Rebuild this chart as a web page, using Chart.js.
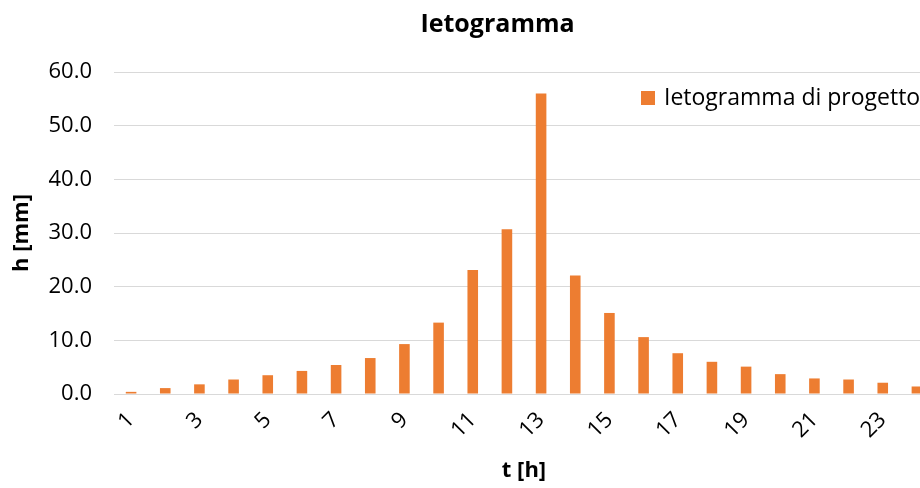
<!DOCTYPE html>
<html>
<head>
<meta charset="utf-8">
<script src="https://cdn.jsdelivr.net/npm/chart.js@4/dist/chart.umd.min.js"></script>
<style>
  html, body { margin: 0; padding: 0; background: #fff; overflow: hidden; }
  #wrap { width: 986px; height: 488px; position: relative; }
</style>
</head>
<body>
<div id="wrap"><canvas id="chart"></canvas></div>
<script>
// ore 1..24
var ore = ['1','2','3','4','5','6','7','8','9','10','11','12','13','14','15','16','17','18','19','20','21','22','23','24'];
// altezze di pioggia (mm)
var altezze = [0.4, 1.1, 1.8, 2.7, 3.5, 4.3, 5.4, 6.7, 9.3, 13.3, 23.1, 30.7, 56.0, 22.1, 15.1, 10.6, 7.6, 6.0, 5.1, 3.7, 2.9, 2.7, 2.1, 1.4];
var yTicks = [0, 10, 20, 30, 40, 50, 60];

var fontName = "'Open Sans', 'Noto Sans', sans-serif";
var arancio = '#ED7D31';
var griglia = '#d9d9d9';

// legenda disegnata dentro l'area del grafico, in alto a destra
var legendaInterna = {
    id: 'legendaInterna',
    afterDraw: function(chart) {
        var ctx = chart.ctx;
        var area = chart.chartArea;
        var ds = chart.data.datasets[0];
        var x = area.right - 293;
        var y = area.top + 19;
        ctx.save();
        ctx.fillStyle = ds.backgroundColor;
        ctx.fillRect(x, y, 14, 14);
        ctx.fillStyle = '#000';
        ctx.font = '23px ' + fontName;
        ctx.textBaseline = 'middle';
        ctx.textAlign = 'left';
        ctx.fillText(ds.label, x + 23, y + 7);
        ctx.restore();
    }
};

new Chart(document.getElementById('chart'), {
    type: 'bar',
    data: {
        labels: ore,
        datasets: [{
            label: 'Ietogramma di progetto',
            data: altezze,
            backgroundColor: arancio,
            borderWidth: 0,
            categoryPercentage: 1,
            barPercentage: 0.31
        }]
    },
    plugins: [legendaInterna],
    options: {
        responsive: true,
        maintainAspectRatio: false,
        animation: false,
        layout: { padding: { left: 9, right: 0, top: 0, bottom: 4 } },
        plugins: {
            title: {
                display: true,
                text: 'Ietogramma',
                color: '#000',
                font: { family: fontName, size: 25, weight: 'bold' },
                padding: { top: 10, bottom: 32 }
            },
            legend: { display: false },
            tooltip: { enabled: false }
        },
        scales: {
            x: {
                grid: { display: false, drawTicks: false },
                border: { display: true, color: griglia, width: 1 },
                ticks: {
                    autoSkip: false,
                    minRotation: 45,
                    maxRotation: 45,
                    padding: 13,
                    color: '#000',
                    font: { family: fontName, size: 22 },
                    callback: function(val, i) { return i % 2 === 0 ? ore[i] : ''; }
                },
                title: {
                    display: true,
                    text: 't [h]',
                    color: '#000',
                    font: { family: fontName, size: 22, weight: 'bold' },
                    padding: { top: 0, bottom: 0 }
                },
                afterFit: function(scale) { scale.height = 90; }
            },
            y: {
                min: 0,
                max: 60,
                afterBuildTicks: function(scale) {
                    scale.ticks = yTicks.map(function(v) { return { value: v }; });
                },
                grid: { color: griglia, lineWidth: 1, drawTicks: false },
                border: { display: false },
                ticks: {
                    padding: 22,
                    color: '#000',
                    font: { family: fontName, size: 22 },
                    callback: function(v) { return Number(v).toFixed(1); }
                },
                title: {
                    display: true,
                    text: 'h [mm]',
                    color: '#000',
                    font: { family: fontName, size: 22, weight: 'bold' },
                    padding: { top: 0, bottom: 0 }
                },
                afterFit: function(scale) { scale.width = 105; }
            },
            // asse vuoto a destra: solo spazio, il grafico continua oltre la finestra
            vuoto: {
                type: 'linear',
                position: 'right',
                display: true,
                grid: { display: false, drawTicks: false },
                border: { display: false },
                ticks: { display: false },
                afterFit: function(scale) { scale.width = 52; }
            }
        }
    }
});
</script>
</body>
</html>
